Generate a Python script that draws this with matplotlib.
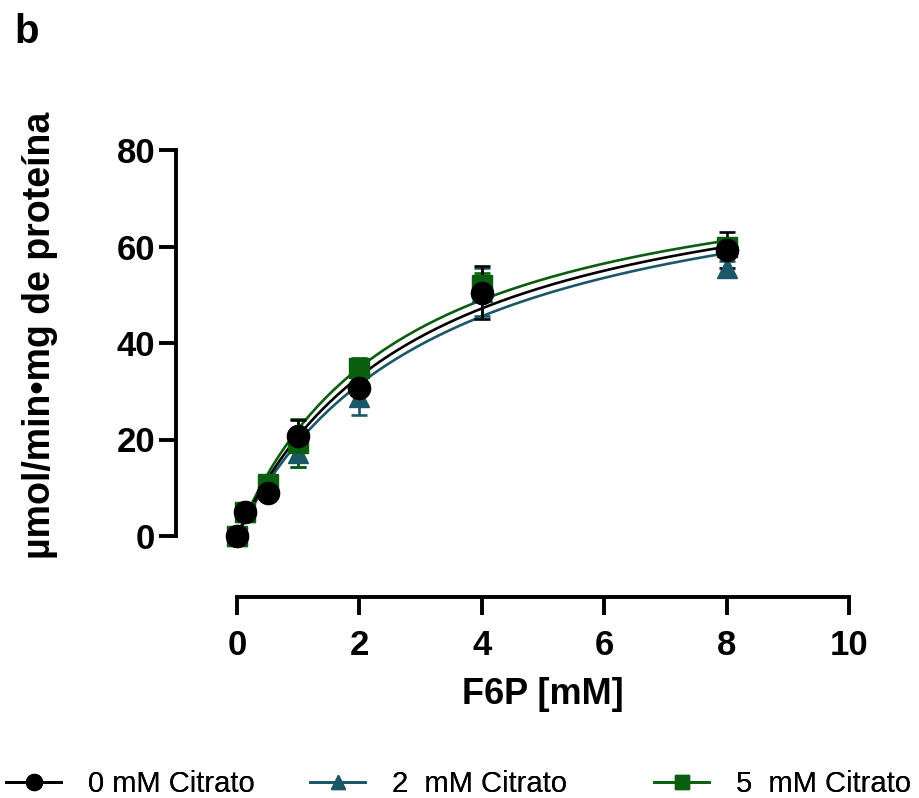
import numpy as np
import matplotlib
matplotlib.use("Agg")
import matplotlib.pyplot as plt

plt.rcParams['font.family'] = ['Liberation Sans', 'DejaVu Sans']

# datos
f6p = [0, 0.125, 0.5, 1, 2, 4, 8]

v_c0 = [0, 5.0, 9.0, 20.8, 30.7, 50.4, 59.3]
e_c0 = [0, 0.5, 0.8, 3.2, 3.7, 5.5, 3.8]

v_c2 = [0, 5.0, 10.0, 17.2, 28.8, 50.5, 55.5]
e_c2 = [0, 0.5, 1.0, 2.8, 3.8, 5.0, 1.5]

v_c5 = [0, 5.0, 10.8, 19.3, 34.8, 52.0, 59.8]
e_c5 = [0, 0.5, 0.8, 5.0, 2.0, 2.5, 1.5]

# ajuste Michaelis-Menten (Vmax, Km)
fit_c0 = (82.3, 2.98)
fit_c2 = (82.3, 3.23)
fit_c5 = (81.8, 2.69)

labels = ["0 mM Citrato", "2  mM Citrato", "5  mM Citrato"]
colors = ["#000000", "#1a5868", "#0b5e0f"]
markers = ["o", "^", "s"]
msizes = [16, 14, 14]

fig = plt.figure(figsize=(9.19, 7.98), dpi=100)
ax = fig.add_axes([237/919, 1 - 536/798, 612/919, 386/798])

xx = np.linspace(0, 8, 200)
series = [(v_c2, e_c2, fit_c2, 1), (v_c5, e_c5, fit_c5, 2), (v_c0, e_c0, fit_c0, 0)]
handles = {}
for v, e, (vmax, km), i in series:
    ax.plot(xx, vmax * xx / (km + xx), color=colors[i], lw=1.9, zorder=2, clip_on=False)
    ax.errorbar(f6p, v, yerr=e, fmt='none', ecolor=colors[i], elinewidth=1.9,
                capsize=6, capthick=1.9, zorder=3, clip_on=False)
    ax.plot(f6p, v, ls='none', marker=markers[i], ms=msizes[i],
            color=colors[i], zorder=4, clip_on=False)
    handles[i] = ax.plot([], [], color=colors[i], lw=2, marker=markers[i],
                         ms=msizes[i] * 0.72)[0]

ax.set_xlim(0, 10)
ax.set_ylim(0, 80)
ax.set_xticks([0, 2, 4, 6, 8, 10])
ax.set_yticks([0, 20, 40, 60, 80])

for s in ['top', 'right']:
    ax.spines[s].set_visible(False)
ax.spines['left'].set_position(('outward', 44))
ax.spines['bottom'].set_position(('outward', 44))
ax.spines['left'].set_linewidth(2.8)
ax.spines['bottom'].set_linewidth(2.8)
ax.tick_params(axis='y', length=12, width=2.8, labelsize=25, pad=3)
ax.tick_params(axis='x', length=13, width=2.8, labelsize=25, pad=10)
for t in ax.get_xticklabels() + ax.get_yticklabels():
    t.set_fontweight('bold')

ax.set_xlabel("F6P [mM]", fontsize=26, fontweight='bold', labelpad=11)
fig.text(40/919, 1 - 335/798, "µmol/min•mg de proteína", fontsize=27,
         fontweight='bold', rotation=90, ha='center', va='center')

fig.text(14/919, 1 - 43/798, "b", fontsize=29, fontweight='bold')

# leyenda en la parte inferior
leg_x = [0 / 919, 304 / 919, 648 / 919]
for i in range(3):
    lg = fig.legend([handles[i]], [labels[i]], loc='center left',
                    bbox_to_anchor=(leg_x[i], 1 - 784/798), frameon=False,
                    fontsize=21, handlelength=1.9, handletextpad=0.9,
                    borderaxespad=0, borderpad=0.2)
    fig.add_artist(lg)

fig.savefig("out.png", dpi=100)
